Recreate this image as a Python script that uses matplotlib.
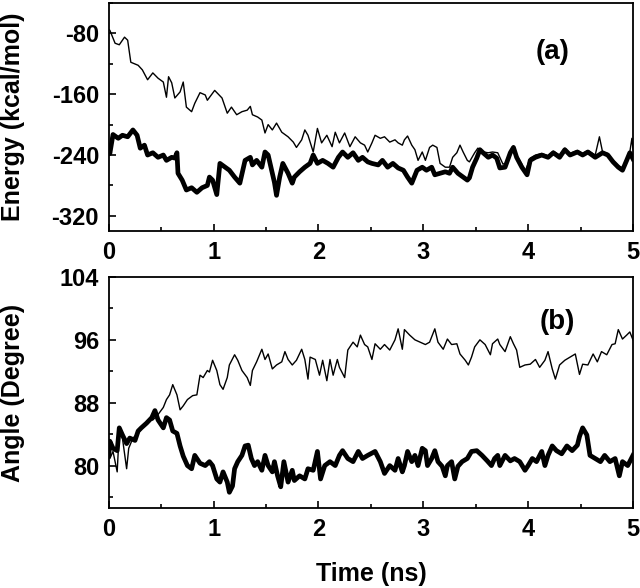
import matplotlib
matplotlib.use("Agg")
import matplotlib.pyplot as plt
from matplotlib.ticker import MultipleLocator

plt.rcParams['font.family'] = ['Liberation Sans', 'DejaVu Sans']
plt.rcParams['font.weight'] = 'bold'
plt.rcParams['axes.unicode_minus'] = False

# (a) energy, thin line
t_e1 = [0.00, 0.01, 0.06, 0.10, 0.15, 0.18, 0.21, 0.28, 0.32, 0.37, 0.42, 0.47, 0.52, 0.55, 0.57,
        0.60, 0.63, 0.68, 0.71, 0.74, 0.79, 0.82, 0.87, 0.92, 0.94, 1.01, 1.08, 1.13, 1.17, 1.22,
        1.27, 1.32, 1.35, 1.37, 1.42, 1.46, 1.49, 1.52, 1.56, 1.60, 1.65, 1.71, 1.76, 1.79, 1.84,
        1.87, 1.90, 1.95, 1.99, 2.03, 2.08, 2.13, 2.16, 2.20, 2.25, 2.30, 2.35, 2.40, 2.44, 2.47,
        2.51, 2.54, 2.59, 2.63, 2.68, 2.73, 2.76, 2.80, 2.82, 2.85, 2.89, 2.92, 2.95, 2.99, 3.02,
        3.06, 3.09, 3.13, 3.16, 3.21, 3.25, 3.28, 3.32, 3.35, 3.38, 3.42, 3.44, 3.49, 3.52, 3.57,
        3.62, 3.66, 3.71, 3.76, 3.80, 3.83, 3.86, 3.89, 3.94, 3.97, 4.02, 4.07, 4.13, 4.19, 4.24,
        4.30, 4.35, 4.40, 4.47, 4.52, 4.57, 4.64, 4.68, 4.71, 4.76, 4.81, 4.86, 4.90, 4.94, 4.97,
        4.99, 5.00]
e1 = [-75, -76, -93, -95, -85, -89, -118, -122, -128, -141, -132, -139, -144, -164, -137,
      -145, -165, -157, -144, -177, -183, -172, -158, -161, -168, -155, -165, -185, -177, -187,
      -183, -181, -176, -187, -190, -194, -211, -200, -207, -198, -210, -216, -223, -230, -220,
      -207, -214, -236, -205, -224, -214, -229, -210, -224, -211, -229, -216, -224, -227, -236,
      -224, -214, -218, -216, -223, -220, -224, -227, -220, -215, -227, -233, -247, -236, -247,
      -230, -227, -230, -251, -256, -256, -243, -237, -227, -236, -247, -249, -237, -231, -236,
      -237, -236, -237, -252, -250, -238, -228, -240, -252, -262, -244, -240, -238, -241, -235,
      -240, -231, -238, -234, -238, -234, -240, -216, -236, -238, -247, -254, -257, -244, -236,
      -218, -232]

# (a) energy, thick line
t_e2 = [0.00, 0.01, 0.04, 0.09, 0.13, 0.18, 0.23, 0.27, 0.30, 0.34, 0.37, 0.42, 0.47, 0.52, 0.55,
        0.60, 0.63, 0.65, 0.66, 0.70, 0.74, 0.79, 0.84, 0.89, 0.94, 0.96, 0.99, 1.03, 1.06, 1.11,
        1.15, 1.20, 1.25, 1.30, 1.35, 1.37, 1.41, 1.46, 1.49, 1.52, 1.56, 1.58, 1.60, 1.63, 1.66,
        1.71, 1.75, 1.77, 1.82, 1.87, 1.92, 1.95, 1.99, 2.04, 2.09, 2.14, 2.19, 2.23, 2.28, 2.33,
        2.38, 2.42, 2.47, 2.51, 2.57, 2.61, 2.66, 2.71, 2.76, 2.81, 2.85, 2.89, 2.94, 2.99, 3.03,
        3.08, 3.11, 3.16, 3.21, 3.25, 3.28, 3.33, 3.38, 3.42, 3.44, 3.47, 3.51, 3.54, 3.57, 3.62,
        3.66, 3.70, 3.73, 3.78, 3.83, 3.86, 3.89, 3.94, 3.99, 4.02, 4.07, 4.13, 4.19, 4.24, 4.30,
        4.35, 4.40, 4.47, 4.52, 4.57, 4.64, 4.71, 4.76, 4.81, 4.86, 4.90, 4.94, 4.97, 5.00]
e2 = [-233, -238, -213, -218, -214, -216, -207, -214, -231, -227, -240, -237, -243, -240, -247,
      -243, -244, -237, -264, -273, -286, -283, -289, -283, -280, -269, -273, -292, -251, -256,
      -260, -269, -277, -247, -243, -253, -247, -256, -236, -240, -264, -276, -293, -269, -251,
      -264, -277, -269, -262, -256, -251, -240, -251, -247, -251, -256, -243, -236, -243, -237,
      -247, -243, -249, -251, -253, -247, -256, -251, -257, -260, -269, -277, -260, -256, -260,
      -256, -266, -264, -262, -264, -256, -264, -269, -273, -270, -256, -244, -233, -237, -243,
      -240, -244, -257, -256, -237, -230, -243, -256, -266, -247, -243, -240, -243, -237, -243,
      -233, -240, -236, -240, -236, -243, -237, -240, -249, -256, -260, -247, -237, -245]

# (b) angle, thin line
t_a1 = [0.00, 0.01, 0.04, 0.08, 0.10, 0.13, 0.17, 0.19, 0.23, 0.28, 0.32, 0.37, 0.42, 0.47, 0.52,
        0.55, 0.58, 0.61, 0.65, 0.68, 0.71, 0.75, 0.80, 0.84, 0.87, 0.90, 0.94, 0.96, 0.99, 1.03,
        1.06, 1.09, 1.13, 1.15, 1.20, 1.23, 1.27, 1.32, 1.35, 1.37, 1.41, 1.46, 1.49, 1.52, 1.56,
        1.60, 1.65, 1.68, 1.71, 1.75, 1.79, 1.84, 1.87, 1.90, 1.92, 1.97, 2.01, 2.04, 2.08, 2.11,
        2.14, 2.18, 2.20, 2.25, 2.28, 2.33, 2.37, 2.40, 2.44, 2.47, 2.51, 2.54, 2.59, 2.63, 2.68,
        2.73, 2.76, 2.80, 2.82, 2.87, 2.92, 2.97, 3.02, 3.06, 3.11, 3.14, 3.19, 3.23, 3.27, 3.32,
        3.35, 3.40, 3.43, 3.46, 3.49, 3.54, 3.59, 3.64, 3.66, 3.71, 3.73, 3.78, 3.83, 3.86, 3.89,
        3.92, 3.97, 4.02, 4.07, 4.11, 4.16, 4.19, 4.23, 4.26, 4.30, 4.35, 4.40, 4.45, 4.49, 4.52,
        4.57, 4.62, 4.66, 4.70, 4.75, 4.80, 4.83, 4.86, 4.90, 4.94, 4.97, 5.00]
a1 = [82.6, 80.9, 81.8, 79.2, 84.4, 83.5, 79.6, 82.2, 83.5, 84.1, 84.8, 85.7, 85.8, 86.5, 87.4,
      88.4, 89.0, 90.3, 89.0, 87.1, 87.6, 88.4, 88.9, 89.0, 91.5, 91.2, 92.1, 91.9, 93.4, 92.1,
      90.3, 89.7, 91.2, 92.8, 94.1, 93.4, 92.1, 91.2, 90.2, 92.1, 93.2, 94.8, 93.5, 94.2, 92.3,
      92.8, 93.2, 94.5, 93.5, 92.8, 93.4, 94.8, 93.5, 91.0, 93.8, 93.5, 91.5, 93.4, 90.8, 93.5,
      91.5, 93.5, 92.5, 91.2, 94.7, 95.7, 95.1, 96.6, 95.4, 95.1, 93.5, 95.5, 94.8, 95.4, 94.7,
      96.0, 97.4, 94.8, 97.3, 96.6, 96.0, 95.7, 95.4, 95.7, 97.4, 95.7, 94.8, 96.1, 95.4, 95.5,
      94.2, 93.4, 92.8, 93.8, 95.1, 96.0, 95.4, 94.1, 95.5, 96.1, 95.4, 94.5, 96.4, 95.5, 94.7,
      92.5, 92.8, 92.9, 93.5, 92.5, 93.4, 94.5, 92.3, 91.0, 92.8, 93.4, 93.8, 94.2, 91.6, 92.9,
      92.8, 94.2, 93.2, 94.5, 94.1, 95.4, 95.5, 97.3, 96.1, 96.6, 97.0, 96.0]

# (b) angle, thick line
t_a2 = [0.00, 0.01, 0.04, 0.08, 0.10, 0.13, 0.17, 0.20, 0.25, 0.28, 0.31, 0.36, 0.41, 0.44, 0.47,
        0.52, 0.55, 0.58, 0.61, 0.65, 0.68, 0.71, 0.75, 0.79, 0.82, 0.87, 0.92, 0.96, 0.99, 1.03,
        1.06, 1.09, 1.13, 1.15, 1.18, 1.20, 1.23, 1.27, 1.30, 1.33, 1.36, 1.39, 1.42, 1.46, 1.49,
        1.52, 1.56, 1.58, 1.61, 1.64, 1.67, 1.71, 1.75, 1.77, 1.82, 1.87, 1.90, 1.95, 1.99, 2.02,
        2.06, 2.11, 2.16, 2.20, 2.23, 2.28, 2.33, 2.38, 2.42, 2.47, 2.54, 2.59, 2.63, 2.68, 2.73,
        2.76, 2.80, 2.82, 2.85, 2.89, 2.92, 2.95, 2.99, 3.02, 3.04, 3.08, 3.11, 3.14, 3.18, 3.21,
        3.23, 3.27, 3.30, 3.33, 3.37, 3.42, 3.46, 3.51, 3.56, 3.61, 3.65, 3.68, 3.71, 3.73, 3.78,
        3.83, 3.87, 3.92, 3.97, 4.00, 4.04, 4.08, 4.13, 4.16, 4.19, 4.23, 4.27, 4.32, 4.37, 4.42,
        4.47, 4.49, 4.52, 4.56, 4.59, 4.64, 4.69, 4.73, 4.78, 4.83, 4.87, 4.90, 4.95, 5.00]
a2 = [81.3, 83.1, 82.2, 81.9, 84.8, 83.9, 82.8, 83.5, 83.2, 84.4, 84.8, 85.4, 86.1, 87.0, 85.8,
      84.8, 86.1, 85.8, 84.4, 84.1, 82.5, 81.2, 80.0, 79.6, 81.3, 80.3, 80.0, 80.5, 80.0, 78.3,
      77.9, 79.2, 77.9, 76.6, 77.4, 79.6, 80.5, 81.3, 82.5, 82.6, 80.9, 80.0, 80.5, 79.4, 81.3,
      80.0, 79.2, 80.5, 78.7, 77.3, 80.5, 77.9, 79.4, 78.1, 78.7, 78.3, 79.6, 79.4, 81.8, 78.3,
      80.0, 80.5, 80.0, 81.3, 81.9, 80.9, 80.5, 81.8, 80.9, 81.3, 81.8, 80.5, 79.0, 80.0, 79.4,
      80.9, 79.2, 80.0, 81.8, 80.5, 81.3, 80.0, 82.2, 81.9, 80.0, 80.9, 81.9, 80.5, 79.9, 78.7,
      80.0, 80.5, 78.3, 79.9, 80.5, 80.9, 81.8, 81.9, 81.3, 80.6, 80.0, 80.9, 81.3, 80.0, 81.3,
      80.6, 80.9, 80.5, 79.4, 80.0, 80.9, 80.5, 81.8, 80.0, 81.3, 82.5, 81.9, 81.5, 82.5, 81.9,
      82.6, 83.7, 84.8, 83.9, 81.3, 80.9, 80.5, 81.3, 80.5, 80.9, 78.7, 80.5, 80.0, 81.3]

energy_ticks = [-320, -240, -160, -80]
angle_ticks = [80, 88, 96, 104]

fig = plt.figure(figsize=(6.4, 5.88), dpi=100)
ax1 = fig.add_axes([0.170, 0.607, 0.819, 0.388])
ax2 = fig.add_axes([0.170, 0.136, 0.819, 0.393])

for ax in (ax1, ax2):
    ax.set_xlim(0, 5)
    ax.xaxis.set_major_locator(MultipleLocator(1))
    ax.xaxis.set_minor_locator(MultipleLocator(0.5))
    ax.tick_params(which='both', direction='in', top=False, right=False,
                   width=1.2, labelsize=17, pad=7)
    ax.tick_params(which='major', length=5)
    ax.tick_params(which='minor', length=3)
    for s in ax.spines.values():
        s.set_linewidth(1.3)

ax1.plot(t_e1, e1, color='black', lw=1.0)
ax1.plot(t_e2, e2, color='black', lw=3.4, solid_joinstyle='round')
ax1.set_ylim(-340, -40)
ax1.set_yticks(energy_ticks)
ax1.yaxis.set_minor_locator(MultipleLocator(40))
ax1.set_ylabel('Energy (kcal/mol)', fontsize=18, fontweight='bold')
ax1.yaxis.set_label_coords(-0.160, 0.5)
ax1.text(0.847, 0.785, '(a)', transform=ax1.transAxes, fontsize=20,
         fontweight='bold', ha='center', va='center')

ax2.plot(t_a1, a1, color='black', lw=1.0)
ax2.plot(t_a2, a2, color='black', lw=3.4, solid_joinstyle='round')
ax2.set_ylim(74.6, 104)
ax2.set_yticks(angle_ticks)
ax2.yaxis.set_minor_locator(MultipleLocator(4))
ax2.set_ylabel('Angle (Degree)', fontsize=18, fontweight='bold')
ax2.yaxis.set_label_coords(-0.160, 0.5)
ax2.set_xlabel('Time (ns)', fontsize=18, fontweight='bold')
ax2.xaxis.set_label_coords(0.5, -0.234)
ax2.text(0.855, 0.805, '(b)', transform=ax2.transAxes, fontsize=20,
         fontweight='bold', ha='center', va='center')

fig.savefig('out.png', dpi=100)
